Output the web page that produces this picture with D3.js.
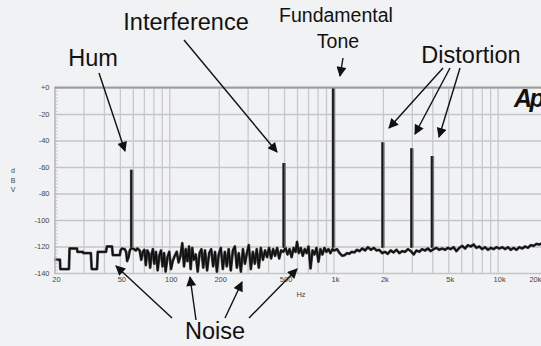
<!DOCTYPE html>
<html>
<head>
<meta charset="utf-8">
<script src="https://cdn.jsdelivr.net/npm/d3@7/dist/d3.min.js"></script>
<style>
  html, body { margin: 0; padding: 0; background: #f1f2f4; }
  svg { display: block; font-family: "Liberation Sans", Arial, sans-serif; }
</style>
</head>
<body>
<svg id="chart" width="541" height="346"></svg>
<script>
// ---------------- data ----------------
const xTickHz     = [20, 50, 100, 200, 500, 1000, 2000, 5000, 10000, 20000];
const xTickLabels = ["20", "50", "100", "200", "500", "1k", "2k", "5k", "10k", "20k"];
const gridHz = [20,30,40,50,60,70,80,90,100,200,300,400,500,600,700,800,900,
                1000,2000,3000,4000,5000,6000,7000,8000,9000,10000,20000];
const yTickDb     = [0, -20, -40, -60, -80, -100, -120, -140];
const yTickLabels = ["+0", "-20", "-40", "-60", "-80", "-100", "-120", "-140"];
const yAxisLabel  = ["d", "B", "V"];
const xAxisLabel  = "Hz";

// noise floor trace (Hz, dBV)
const noiseHz = [
  20, 21.6, 21.7, 24.5, 24.7, 27.4, 27.6, 29.8, 30, 33.3, 33.7, 36.3, 36.7, 41.2, 41.7, 44.8,
  45.3, 50, 50.5, 51.5, 53.5, 54.6, 55.4, 56.5, 57.5, 59, 61, 62.5, 64, 66,
  67.5, 69, 70.5, 72, 73.5, 75, 76.5, 78, 79.5, 81, 83, 85, 87, 89, 91, 93, 95, 97.5,
  100, 102.5, 105, 108, 111, 114, 117, 120, 123, 126, 129, 132, 135, 138, 141, 145,
  149, 153, 157, 161, 165, 170, 175, 180, 185, 190, 195, 200, 206, 212, 218, 224,
  230, 237, 244, 251, 258, 265, 273, 281, 289, 297, 305, 314, 323, 332, 341, 351,
  361, 372, 383, 394, 405, 417, 429, 441, 454, 467, 480, 495, 510, 525, 540, 556,
  572, 588, 600, 615, 632, 650, 668, 686, 705, 725, 745, 766, 788, 810, 833, 857,
  881, 906, 932, 958, 985,
  1010, 1050, 1090, 1130, 1170, 1210, 1250, 1290, 1340, 1390, 1440, 1500, 1560, 1620,
  1690, 1760, 1830, 1900, 1980, 2060, 2140, 2230, 2320, 2420, 2520, 2620, 2730, 2840,
  2960, 3080, 3200, 3330, 3470, 3610, 3760, 3910, 4070, 4240, 4410, 4590, 4780, 4980,
  5180, 5390, 5610, 5840, 6080, 6330, 6590, 6860, 7140, 7430, 7730, 8050, 8380, 8720,
  9080, 9450, 9840, 10240, 10660, 11100, 11550, 12020, 12510, 13020, 13550, 14100,
  14680, 15280, 15900, 16550, 17230, 17930, 18660, 19420, 20000
];
const noiseDb = [
  -130, -130, -137, -137, -121.5, -121.5, -124, -124, -125, -125, -137, -137, -124, -124, -120, -120,
  -126.5, -126.5, -123, -121.5, -122, -124, -131, -128, -123, -121, -122, -123, -121.5, -123,
  -130, -124, -122.5, -134, -123, -125, -136, -126, -122, -133, -124, -138, -127, -123, -135, -125, -139, -128,
  -124, -137, -131, -127, -124, -132, -127, -117.5, -135, -122, -131, -120, -137, -121, -130, -126,
  -139, -125, -122, -136, -123, -138, -125, -122, -135, -124, -139, -126, -121, -137, -124, -135,
  -122, -138, -123, -120, -136, -125, -139, -122, -133, -125, -119, -137, -124, -133, -122, -136,
  -121, -130, -123, -128, -121, -129, -122, -127, -121, -129, -123, -124, -121, -126, -122, -128,
  -121, -124, -116.5, -125, -121, -127, -122, -125, -120, -136.5, -123, -126, -121, -131.5, -122, -126,
  -121, -124, -122, -125, -122,
  -123, -122, -125, -127, -126.5, -125, -125.5, -124, -124.5, -122.5, -123.5, -121.5, -123, -120.5,
  -122.5, -121, -123, -122.5, -125, -124, -125.5, -123, -124.5, -122.5, -125, -123.5, -124, -122,
  -123.5, -126, -123, -124, -122, -123, -121.5, -123.5, -122, -121, -122.5, -121.5, -122.5, -121,
  -122, -120.5, -123.5, -121, -119.5, -121.5, -119, -120, -118.5, -121, -120, -122, -120.5, -122.5,
  -121, -122, -120.5, -121.5, -120.5, -122, -120.5, -122.5, -121, -122.5, -120.5, -121.5,
  -120, -121, -119, -119.5, -118, -118.5, -117.5, -118, -117.5
];

// spectral peaks
const peakHz = [59, 500, 1000, 2000, 3000, 4000];
const peakDb = [-62, -57, 0, -41.3, -45.8, -51.7];

// annotation texts
const annoText = ["Hum", "Interference", "Fundamental", "Tone", "Distortion", "Noise"];

// ---------------- drawing ----------------
(function () {
const svg = d3.select("#chart");
const W = 541, H = 346;
const pLeft = 54.5, pTop = 87.5, pBottom = 273;
const x = d3.scaleLog().domain([20, 20000]).range([pLeft, pLeft + 3 * 164.2]);
const y = d3.scaleLinear().domain([0, -140]).range([pTop, pBottom]);

svg.append("rect").attr("width", W).attr("height", H).attr("fill", "#f1f2f4");

const defs = svg.append("defs");
defs.append("clipPath").attr("id", "plotclip")
  .append("rect").attr("x", pLeft - 1).attr("y", pTop - 2).attr("width", W - pLeft + 2).attr("height", pBottom - pTop + 4);
defs.append("marker").attr("id", "arrow")
  .attr("viewBox", "0 0 10 10").attr("refX", 9).attr("refY", 5)
  .attr("markerWidth", 12).attr("markerHeight", 10)
  .attr("markerUnits", "userSpaceOnUse").attr("orient", "auto")
  .append("path").attr("d", "M0,0 L10,5 L0,10 Z").attr("fill", "#111");

const plot = svg.append("g").attr("clip-path", "url(#plotclip)");

// vertical grid
const gx = plot.append("g").attr("transform", `translate(0,${pBottom})`)
  .call(d3.axisBottom(x).tickValues(gridHz).tickSize(-(pBottom - pTop)).tickFormat(""));
gx.select(".domain").remove();
gx.selectAll("line").attr("stroke", "#c8c9cc").attr("stroke-width", 1.3);

// horizontal grid
const gy = plot.append("g").attr("transform", `translate(${pLeft},0)`)
  .call(d3.axisLeft(y).tickValues(yTickDb).tickSize(-(W - pLeft)).tickFormat(""));
gy.select(".domain").remove();
gy.selectAll("line").attr("stroke", "#c4c5c8").attr("stroke-width", 1.3);

// left axis line with minor ticks
const minorDb = d3.range(0, -140.01, -2.5);
const gm = svg.append("g").attr("transform", `translate(${pLeft},0)`)
  .call(d3.axisLeft(y).tickValues(minorDb).tickSize(-3).tickFormat(""));
gm.select(".domain").attr("stroke", "#b8b9bc").attr("stroke-width", 1.2);
gm.selectAll("line").attr("stroke", "#b8b9bc").attr("stroke-width", 0.8);

// top border
svg.append("line").attr("x1", pLeft).attr("x2", W).attr("y1", y(0)).attr("y2", y(0))
  .attr("stroke", "#9c9da0").attr("stroke-width", 2.2);

// y tick labels
const yl = svg.append("g").attr("transform", `translate(${pLeft - 2},0)`)
  .call(d3.axisLeft(y).tickValues(yTickDb).tickSize(0).tickFormat((d, i) => yTickLabels[i]));
yl.select(".domain").remove();
yl.selectAll("text").attr("font-size", 7.5).attr("fill", "#444").attr("font-family", "Liberation Sans, Arial, sans-serif");

// x tick labels
const xl = svg.append("g").attr("transform", `translate(1.5,${pBottom + 1})`)
  .call(d3.axisBottom(x).tickValues(xTickHz).tickSize(0).tickFormat((d, i) => xTickLabels[i]));
xl.select(".domain").remove();
xl.selectAll("text").attr("font-size", 7.5).attr("fill", "#444").attr("font-family", "Liberation Sans, Arial, sans-serif");
// keep the last (edge) label inside the picture
xl.selectAll(".tick").filter(d => x(d) > W - 8).select("text")
  .attr("text-anchor", "end").attr("x", d => W - 1.5 - x(d));

svg.append("text").attr("x", 301).attr("y", 297).attr("text-anchor", "middle")
  .attr("font-size", 7.5).attr("fill", "#444").text(xAxisLabel);
yAxisLabel.forEach((c, i) => {
  svg.append("text").attr("x", 13).attr("y", 173 + i * 9.5).attr("text-anchor", "middle")
    .attr("font-size", 7).attr("fill", "#444").text(c);
});

// noise trace
const n = Math.min(noiseHz.length, noiseDb.length);
const pts = noiseHz.slice(0, n).map((f, i) => [f, noiseDb[i]]);
const line = d3.line().x(d => x(d[0])).y(d => y(d[1]));
plot.append("path").datum(pts).attr("d", line).attr("fill", "none")
  .attr("stroke", "#555").attr("stroke-width", 2.8).attr("stroke-linejoin", "round");
plot.append("path").datum(pts).attr("d", line).attr("fill", "none")
  .attr("stroke", "#111").attr("stroke-width", 1.7).attr("stroke-linejoin", "round");

// peaks
peakHz.forEach((f, i) => {
  const px = x(f);
  plot.append("line").attr("x1", px).attr("x2", px).attr("y1", y(peakDb[i])).attr("y2", y(-121))
    .attr("stroke", "#777").attr("stroke-width", 3.6);
  plot.append("line").attr("x1", px - 0.5).attr("x2", px - 0.5).attr("y1", y(peakDb[i])).attr("y2", y(-121))
    .attr("stroke", "#1a1a1a").attr("stroke-width", 1.8);
});

// logo
svg.append("text").attr("x", 514).attr("y", 107).attr("font-size", 25)
  .attr("font-weight", 900).attr("font-style", "italic").attr("letter-spacing", -2.5)
  .attr("fill", "#111").text("Ap");

// annotations
const annoPos = [[93, 66, 23.5], [186, 30, 23.5], [336, 22, 19.5], [338, 48, 19.5], [471, 63, 23.5], [215, 339, 23.5]];
annoText.forEach((t, i) => {
  svg.append("text").attr("x", annoPos[i][0]).attr("y", annoPos[i][1]).attr("text-anchor", "middle")
    .attr("font-size", annoPos[i][2]).attr("fill", "#111").text(t);
});

const arrows = [
  [[99, 73], [125, 151]],
  [[184, 40], [277, 152]],
  [[343, 58], [340, 76]],
  [[443, 68], [389, 128]],
  [[450, 68], [415, 134]],
  [[460, 68], [439, 137]],
  [[172, 318], [116, 266]],
  [[196, 320], [190, 277]],
  [[225, 318], [242, 282]],
  [[249, 318], [297, 269]]
];
arrows.forEach(a => {
  svg.append("line").attr("x1", a[0][0]).attr("y1", a[0][1]).attr("x2", a[1][0]).attr("y2", a[1][1])
    .attr("stroke", "#111").attr("stroke-width", 1.4).attr("marker-end", "url(#arrow)");
});
})();
</script>
</body>
</html>
